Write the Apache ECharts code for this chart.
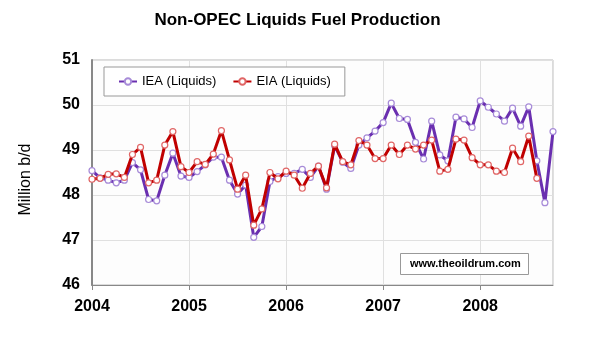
<!DOCTYPE html>
<html><head><meta charset="utf-8">
<script src="https://cdn.jsdelivr.net/npm/echarts@6/dist/echarts.min.js"></script>
<style>html,body{margin:0;padding:0;background:#fff}#c{width:595px;height:356px}</style>
</head><body><div id="c"></div>
<script>
const startYear = 2004;
const yearTicks = ['2004','2005','2006','2007','2008'];
const iea = [48.54,48.38,48.33,48.27,48.33,48.72,48.56,47.90,47.87,48.44,
 48.93,48.42,48.39,48.52,48.67,48.84,48.84,48.33,48.02,48.22,
 47.06,47.30,48.30,48.41,48.48,48.48,48.57,48.39,48.64,48.13,
 49.10,48.73,48.59,49.11,49.27,49.42,49.61,50.04,49.70,49.68,
 49.17,48.80,49.64,48.89,48.76,49.73,49.69,49.50,50.09,49.95,
 49.80,49.64,49.93,49.53,49.96,48.76,47.83,49.41];
const eia = [48.35,48.37,48.46,48.47,48.39,48.90,49.06,48.27,48.33,49.11,
 49.41,48.63,48.50,48.74,48.68,48.91,49.43,48.78,48.13,48.44,
 47.33,47.69,48.50,48.36,48.53,48.44,48.15,48.48,48.64,48.16,
 49.13,48.74,48.67,49.21,49.11,48.81,48.81,49.11,48.90,49.11,
 49.02,49.11,49.22,48.53,48.57,49.24,49.22,48.83,48.67,48.67,
 48.53,48.50,49.04,48.74,49.31,48.37];
const toPairs = a => a.map((v,i)=>[i,v]);
const chart = echarts.init(document.getElementById('c'));
const F = 'Arial, "Liberation Sans", sans-serif';
chart.setOption({
  animation:false,
  title:{text:'Non-OPEC Liquids Fuel Production',left:'center',top:7,
    textStyle:{fontFamily:F,fontSize:17,fontWeight:'bold',color:'#000'}},
  grid:{left:92,top:60,width:461,height:225,show:true,backgroundColor:'#fdfdfd',borderColor:'#b8b8b8',borderWidth:1},
  legend:{left:104,top:67,padding:[8,14,8,14],itemGap:16,itemWidth:18,itemHeight:8,
    backgroundColor:'#fff',borderColor:'#999',borderWidth:1,borderRadius:0,
    textStyle:{fontFamily:F,fontSize:13,color:'#000'},
    data:['IEA (Liquids)','EIA (Liquids)']},
  xAxis:{type:'value',min:0,max:57,interval:12,
    axisLine:{show:true,lineStyle:{color:'#888',width:1}},
    axisTick:{show:true,length:5,lineStyle:{color:'#888'}},
    splitLine:{show:true,lineStyle:{color:'#e0e0e0'}},
    axisLabel:{fontFamily:F,fontSize:16,fontWeight:'bold',color:'#000',margin:14,showMaxLabel:false,
      formatter:v=>yearTicks[v/12]||''}},
  yAxis:{type:'value',min:46,max:51,interval:1,
    name:'Million b/d',nameLocation:'middle',nameGap:58,
    nameTextStyle:{fontFamily:F,fontSize:16,color:'#000',padding:[0,0,0,-14]},
    axisLine:{show:true,lineStyle:{color:'#888',width:2}},
    axisTick:{show:false},
    splitLine:{show:true,lineStyle:{color:'#e0e0e0'}},
    axisLabel:{fontFamily:F,fontSize:16,fontWeight:'bold',color:'#000',margin:12}},
  series:[
    {name:'IEA (Liquids)',type:'line',data:toPairs(iea),symbol:'circle',symbolSize:6,z:2,
      lineStyle:{color:'#6a2fb0',width:3},
      itemStyle:{color:'#fff',borderColor:'#a78bd8',borderWidth:1.2}},
    {name:'EIA (Liquids)',type:'line',data:toPairs(eia),symbol:'circle',symbolSize:6,z:3,
      lineStyle:{color:'#c00000',width:3},
      itemStyle:{color:'#fff',borderColor:'#e06666',borderWidth:1.2}}
  ],
  graphic:[
    {type:'rect',left:400,top:253,shape:{width:128,height:21},style:{fill:'#fff',stroke:'#999',lineWidth:1},z:10},
    {type:'text',left:410,top:258,style:{text:'www.theoildrum.com',font:'bold 11px Arial, "Liberation Sans", sans-serif',fill:'#000'},z:11}
  ]
});
</script></body></html>
